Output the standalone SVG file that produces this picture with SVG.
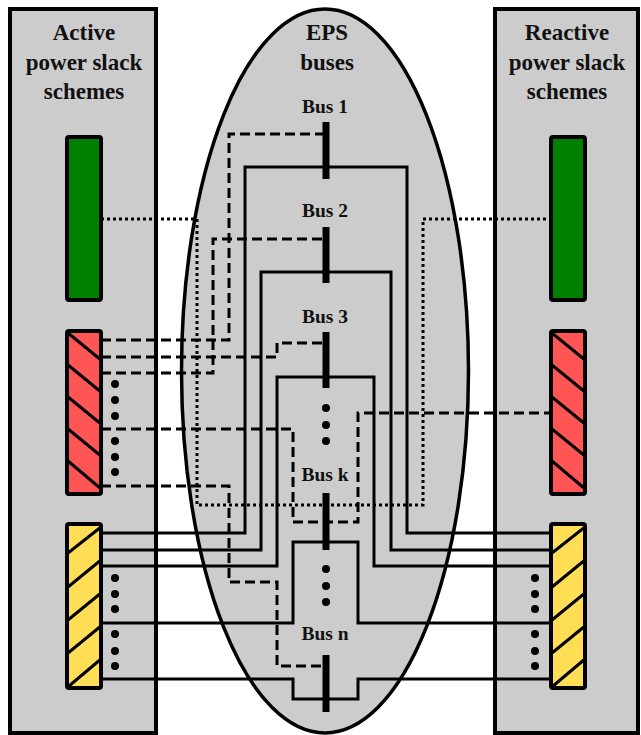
<svg xmlns="http://www.w3.org/2000/svg" width="641" height="735" viewBox="0 0 641 735">
<style>
.panel{fill:#cccccc;stroke:#000;stroke-width:4}
.title{font-family:"Liberation Serif","Times New Roman",serif;font-weight:bold;font-size:23px;text-anchor:middle;fill:#111}
.bl{font-family:"Liberation Serif","Times New Roman",serif;font-weight:bold;font-size:19.5px;text-anchor:middle;fill:#111}
.box{stroke:#000;stroke-width:4}
.hatch{stroke:#000;stroke-width:3;fill:none}
.solid{fill:none;stroke:#000;stroke-width:3}
.dash{fill:none;stroke:#000;stroke-width:3;stroke-dasharray:10 5}
.dot{fill:none;stroke:#000;stroke-width:3;stroke-dasharray:3 3}
.bar{fill:#000}
</style>
<g id="active-panel">
<rect class="panel" x="10" y="9" width="146" height="724"/>
<text class="title" x="84" y="40">Active</text>
<text class="title" x="84" y="70">power slack</text>
<text class="title" x="84" y="99">schemes</text>
</g>
<g id="reactive-panel">
<rect class="panel" x="495" y="9" width="143" height="724"/>
<text class="title" x="567" y="40">Reactive</text>
<text class="title" x="567" y="70">power slack</text>
<text class="title" x="567" y="99">schemes</text>
</g>
<g id="eps-buses">
<ellipse cx="325" cy="371" rx="143.5" ry="362" fill="#cccccc" stroke="#000" stroke-width="3.5"/>
<text class="title" x="327" y="40">EPS</text>
<text class="title" x="327" y="70">buses</text>
</g>
<g id="connectors">
<path class="solid" d="M101,533 H245 V167 H407 V533 H550"/>
<path class="solid" d="M101,550 H261 V272 H391 V550 H550"/>
<path class="solid" d="M101,566 H277 V377 H374 V566 H550"/>
<path class="solid" d="M101,623 H293 V542 H358 V623 H550"/>
<path class="solid" d="M101,679 H293 V699 H358 V679 H550"/>
<path class="dash" d="M101,340 H229 V134 H326"/>
<path class="dash" d="M101,357 H277 V343 H326"/>
<path class="dash" d="M101,373 H213 V239 H326"/>
<path class="dash" d="M101,429 H293 V522 H358 V413 H550"/>
<path class="dash" d="M101,486 H229 V582 H277 V666 H326"/>
<path class="dot" d="M101,219 H197 V505 H423 V219 H550"/>
</g>
<g id="bus1">
<rect class="bar" x="322.5" y="122" width="7" height="57"/>
<text class="bl" x="325" y="113">Bus 1</text>
</g>
<g id="bus2">
<rect class="bar" x="322.5" y="227" width="7" height="56"/>
<text class="bl" x="325" y="217">Bus 2</text>
</g>
<g id="bus3">
<rect class="bar" x="322.5" y="332" width="7" height="56"/>
<text class="bl" x="325" y="323">Bus 3</text>
</g>
<g id="busk">
<rect class="bar" x="322.5" y="493" width="7" height="57"/>
<text class="bl" x="325" y="481">Bus k</text>
</g>
<g id="busn">
<rect class="bar" x="322.5" y="655" width="7" height="57"/>
<text class="bl" x="325" y="640">Bus n</text>
</g>
<g id="bus-dots">
<circle cx="326" cy="408" r="4"/><circle cx="326" cy="425" r="4"/><circle cx="326" cy="441" r="4"/>
<circle cx="326" cy="569" r="4"/><circle cx="326" cy="586" r="4"/><circle cx="326" cy="602" r="4"/>
</g>
<g id="active-green">
<rect class="box" x="67" y="137" width="34" height="163" rx="2" fill="#008000"/>
</g>
<g id="active-red">
<rect class="box" x="67" y="331" width="34" height="163" rx="2" fill="#ff5555"/>
<path class="hatch" d="M68,333 L101,360 M68,365 L101,392 M68,397 L101,424 M68,429 L101,456 M68,461 L100,488"/>
<circle cx="115" cy="384" r="4"/><circle cx="115" cy="400" r="4"/><circle cx="115" cy="416" r="4"/>
<circle cx="115" cy="441" r="4"/><circle cx="115" cy="457" r="4"/><circle cx="115" cy="472" r="4"/>
</g>
<g id="active-yellow">
<rect class="box" x="67" y="524" width="34" height="164" rx="2" fill="#ffdd55"/>
<path class="hatch" d="M68,553 L101,527 M68,587 L101,560 M68,620 L101,593 M68,653 L101,626 M69,686 L101,659"/>
<circle cx="115" cy="578" r="4"/><circle cx="115" cy="594" r="4"/><circle cx="115" cy="609" r="4"/>
<circle cx="115" cy="634" r="4"/><circle cx="115" cy="651" r="4"/><circle cx="115" cy="666" r="4"/>
</g>
<g id="reactive-green">
<rect class="box" x="551" y="137" width="34" height="163" rx="2" fill="#008000"/>
</g>
<g id="reactive-red">
<rect class="box" x="551" y="331" width="34" height="163" rx="2" fill="#ff5555"/>
<path class="hatch" d="M552,333 L585,360 M552,365 L585,392 M552,397 L585,424 M552,429 L585,456 M552,461 L584,488"/>
</g>
<g id="reactive-yellow">
<rect class="box" x="551" y="524" width="34" height="164" rx="2" fill="#ffdd55"/>
<path class="hatch" d="M552,553 L585,527 M552,587 L585,560 M552,620 L585,593 M552,653 L585,626 M553,686 L585,659"/>
<circle cx="535" cy="578" r="4"/><circle cx="535" cy="594" r="4"/><circle cx="535" cy="609" r="4"/>
<circle cx="535" cy="634" r="4"/><circle cx="535" cy="651" r="4"/><circle cx="535" cy="666" r="4"/>
</g>
</svg>
